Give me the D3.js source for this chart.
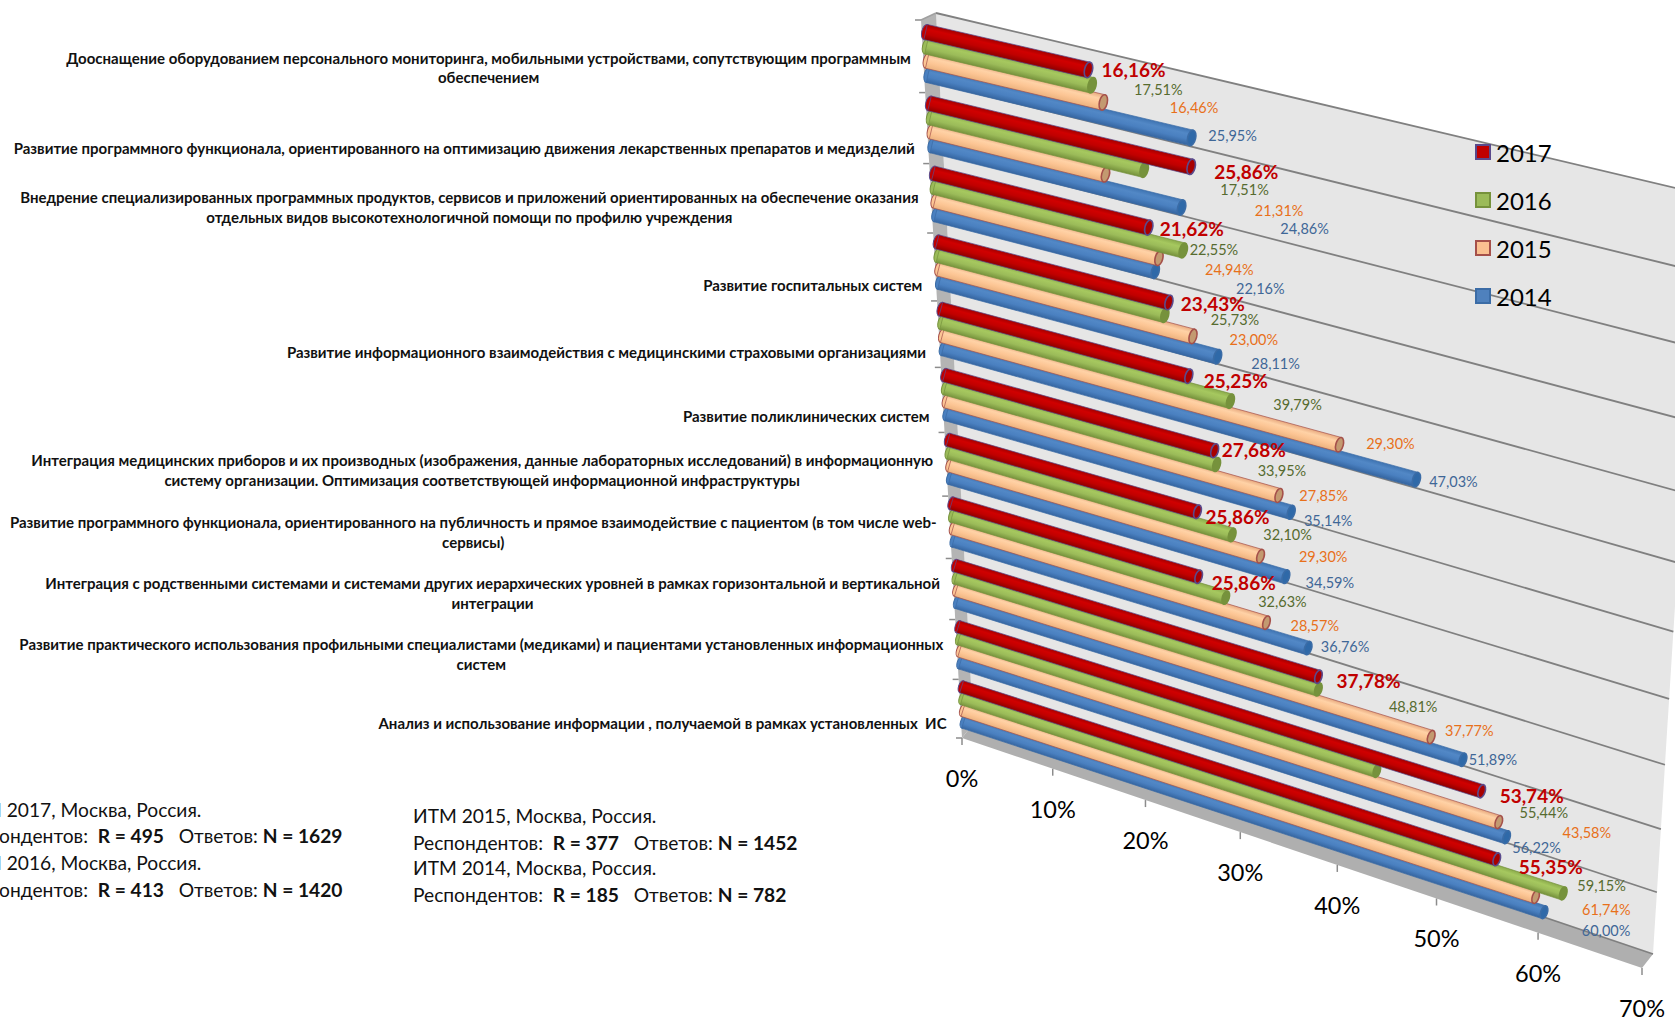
<!DOCTYPE html>
<html lang="ru">
<head>
<meta charset="utf-8">
<script src="https://cdn.jsdelivr.net/npm/d3@7/dist/d3.min.js"></script>
<style>
  html, body { margin: 0; padding: 0; background: #fff; overflow: hidden; }
  svg { display: block; font-family: Lato, "Open Sans", "Noto Sans", sans-serif; }
</style>
</head>
<body>
<svg id="chart" width="1675" height="1021"></svg>
<script>
// Survey results: priorities of hospital IT development, 2014-2017.
const categories = [
  "Дооснащение оборудованием персонального мониторинга, мобильными устройствами, сопутствующим программным\nобеспечением",
  "Развитие программного функционала, ориентированного на оптимизацию движения лекарственных препаратов и медизделий",
  "Внедрение специализированных программных продуктов, сервисов и приложений ориентированных на обеспечение оказания\nотдельных видов высокотехнологичной помощи по профилю учреждения",
  "Развитие госпитальных систем",
  "Развитие информационного взаимодействия с медицинскими страховыми организациями",
  "Развитие поликлинических систем",
  "Интеграция медицинских приборов и их производных (изображения, данные лабораторных исследований) в информационную\nсистему организации. Оптимизация соответствующей информационной инфраструктуры",
  "Развитие программного функционала, ориентированного на публичность и прямое взаимодействие с пациентом (в том числе web-\nсервисы)",
  "Интеграция с родственными системами и системами других иерархических уровней в рамках горизонтальной и вертикальной\nинтеграции",
  "Развитие практического использования профильными специалистами (медиками) и пациентами установленных информационных\nсистем",
  "Анализ и использование информации , получаемой в рамках установленных  ИС"
];
const years = ["2017", "2016", "2015", "2014"];
const values2017 = [16.16, 25.86, 21.62, 23.43, 25.25, 27.68, 25.86, 25.86, 37.78, 53.74, 55.35];
const values2016 = [16.46, 21.31, 24.94, 23.00, 29.30, 27.85, 29.30, 28.57, 37.77, 43.58, 61.74];
const values2015 = [17.51, 17.51, 22.55, 25.73, 39.79, 33.95, 32.10, 32.63, 48.81, 55.44, 59.15];
const values2014 = [25.95, 24.86, 22.16, 28.11, 47.03, 35.14, 34.59, 36.76, 51.89, 56.22, 60.00];
const valueTicks = [0, 10, 20, 30, 40, 50, 60, 70];
const surveyNotes = [
  [["ИТМ 2017, Москва, Россия.", 0]],
  [["Респондентов:  ", 0], ["R = 495", 1], ["   Ответов: ", 0], ["N = 1629", 1]],
  [["ИТМ 2016, Москва, Россия.", 0]],
  [["Респондентов:  ", 0], ["R = 413", 1], ["   Ответов: ", 0], ["N = 1420", 1]]
];
const surveyNotesEarlier = [
  [["ИТМ 2015, Москва, Россия.", 0]],
  [["Респондентов:  ", 0], ["R = 377", 1], ["   Ответов: ", 0], ["N = 1452", 1]],
  [["ИТМ 2014, Москва, Россия.", 0]],
  [["Респондентов:  ", 0], ["R = 185", 1], ["   Ответов: ", 0], ["N = 782", 1]]
];

// Styling per year: the value captions of 2016 and 2015 carry each other's colour.
const seriesStyle = {
  "2017": { values: values2017, edge: "#5a4a8c", cap: "#a80000", text: "#c00000", swatch: "#c00000",
            stops: ["#a20000", "#d00000", "#c00000", "#8c0000"] },
  "2016": { values: values2016, edge: "#76923c", cap: "#76923c", text: "#e8701a", swatch: "#9bbb59",
            stops: ["#8cac4c", "#a6c85f", "#9bbb59", "#76923c"] },
  "2015": { values: values2015, edge: "#a5504a", cap: "#c39a70", text: "#566b2f", swatch: "#fac090",
            stops: ["#e8aa80", "#ffd2a6", "#fcc594", "#ecb27e"] },
  "2014": { values: values2014, edge: "#3b6ca6", cap: "#2f69a8", text: "#3f6797", swatch: "#4f81bd",
            stops: ["#3f74b2", "#5288c6", "#4a80c0", "#3565a0"] }
};

// Hand placement of the value captions, px from the end of each cylinder.
const captionNudge = {
  "2017": [[45,0],[55,5],[43,1],[44,1],[47,4],[39,-1],[40,5],[45,6],[50,4],[50,4],[54,7]],
  "2016": [[102,22],[135,41],[46,19],[89,24],[160,42],[107,31],[91,22],[89,28],[151,41],[210,62],[43,16]],
  "2015": [[55,-13],[139,15],[55,-9],[42,-17],[-42,-40],[3,-25],[27,-22],[16,-21],[-18,-31],[45,-10],[66,-12]],
  "2014": [[41,-2],[123,21],[105,17],[58,7],[37,2],[37,8],[44,6],[37,-2],[30,0],[30,10],[62,18]]
};
// Vertical placement of the category captions, px below the band centre.
const categoryDrop = [14, 23, 13, 23, 23, 21, 11, 10, 9, 9, 18];

// Perspective map of the unit square onto a quadrilateral (0,0 -> p0, 1,0 -> p1, 1,1 -> p2, 0,1 -> p3).
function perspective([x0, y0], [x1, y1], [x2, y2], [x3, y3]) {
  const dx1 = x1 - x2, dx2 = x3 - x2, sx = x0 - x1 + x2 - x3;
  const dy1 = y1 - y2, dy2 = y3 - y2, sy = y0 - y1 + y2 - y3;
  const den = dx1 * dy2 - dx2 * dy1;
  const g = (sx * dy2 - dx2 * sy) / den, h = (dx1 * sy - sx * dy1) / den;
  const a = x1 - x0 + g * x1, b = x3 - x0 + h * x3;
  const d = y1 - y0 + g * y1, e = y3 - y0 + h * y3;
  return (u, v) => {
    const w = g * u + h * v + 1;
    return [(a * u + b * v + x0) / w, (d * u + e * v + y0) / w];
  };
}

const wallPlane  = perspective([936, 13], [1701, 194], [1653, 954], [973, 724]);
const barPlane   = perspective([924.8, 17.6], [1690, 194], [1649.4, 959.4], [964.2, 734]);
const frontPlane = perspective([921, 20], [1690, 214], [1642, 968], [962, 738]);

const xScale = d3.scaleLinear().domain([0, 70]).range([0, 1]);
const catScale = d3.scaleBand().domain(d3.range(categories.length)).range([0, 1]);
const seriesScale = d3.scaleBand().domain(years).range([0, catScale.bandwidth()]).paddingInner(0).paddingOuter(0.5);
const percent = d3.formatLocale({ decimal: ",", thousands: " ", grouping: [3], currency: ["", ""] }).format(".2f");

const svg = d3.select("#chart");
const defs = svg.append("defs");
const polygon = pts => "M" + pts.map(p => p.map(n => n.toFixed(2)).join(",")).join("L") + "Z";

// Chart box: back wall, side wall, floor strip.
const box = svg.append("g");
box.append("path").attr("d", polygon([wallPlane(0,0), wallPlane(1,0), wallPlane(1,1), wallPlane(0,1)])).attr("fill", "#e6e6e6");
box.append("path").attr("d", polygon([frontPlane(0,0), wallPlane(0,0), wallPlane(0,1), frontPlane(0,1)])).attr("fill", "#b4b4b4");
box.append("path").attr("d", polygon([wallPlane(0,1), wallPlane(1,1), frontPlane(1,1), frontPlane(0,1)])).attr("fill", "#afafaf");

const gridSteps = d3.range(categories.length + 1).map(i => i / categories.length);
box.selectAll("line.grid").data(gridSteps).join("line")
  .attr("class", "grid")
  .attr("x1", t => wallPlane(0, t)[0]).attr("y1", t => wallPlane(0, t)[1])
  .attr("x2", t => wallPlane(1, t)[0]).attr("y2", t => wallPlane(1, t)[1])
  .attr("stroke", "#808080").attr("stroke-width", 1.8);
box.append("path").attr("d", "M" + frontPlane(0,0) + "L" + wallPlane(0,0))
  .attr("stroke", "#a0a0a0").attr("stroke-width", 1.5).attr("fill", "none");

// Axis ticks.
const axis = svg.append("g").attr("stroke", "#8c8c8c").attr("stroke-width", 1.5);
axis.selectAll("line.cat").data(gridSteps).join("line")
  .attr("class", "cat")
  .attr("x1", t => frontPlane(0, t)[0]).attr("y1", t => frontPlane(0, t)[1])
  .attr("x2", t => frontPlane(0, t)[0] - 6).attr("y2", t => frontPlane(0, t)[1]);
axis.selectAll("line.val").data(valueTicks).join("line")
  .attr("class", "val")
  .attr("x1", v => frontPlane(xScale(v), 1)[0]).attr("y1", v => frontPlane(xScale(v), 1)[1])
  .attr("x2", v => frontPlane(xScale(v), 1)[0]).attr("y2", v => frontPlane(xScale(v), 1)[1] + 7);
svg.append("g").selectAll("text").data(valueTicks).join("text")
  .attr("x", v => frontPlane(xScale(v), 1)[0])
  .attr("y", v => frontPlane(xScale(v), 1)[1] + 40)
  .attr("text-anchor", "middle").attr("dominant-baseline", "central")
  .attr("font-size", 23.5).attr("fill", "#000")
  .text(v => v + "%");

// Cylinders, from the bottom group up and from the last series to the first,
// so that nearer tubes cover the ones behind them.
const barsLayer = svg.append("g");
const captions = [];
d3.range(categories.length).reverse().forEach(cat => {
  years.slice().reverse().forEach(year => {
    const style = seriesStyle[year];
    const value = style.values[cat];
    const t = catScale(cat) + seriesScale(year) + seriesScale.bandwidth() / 2;
    const half = seriesScale.step() * 0.56;
    const u = xScale(value);
    const start = barPlane(0, t), end = barPlane(u, t), mid = barPlane(u / 2, t);
    const angle = Math.atan2(end[1] - start[1], end[0] - start[0]);
    const normal = [-Math.sin(angle), Math.cos(angle)];
    const perp = (p, q) => Math.abs((q[0] - p[0]) * normal[0] + (q[1] - p[1]) * normal[1]) / 2;
    const rStart = perp(barPlane(0, t - half), barPlane(0, t + half));
    const rEnd = perp(barPlane(u, t - half), barPlane(u, t + half));
    const rMid = (rStart + rEnd) / 2;
    const id = `tube-${cat}-${year}`;

    const grad = defs.append("linearGradient").attr("id", id).attr("gradientUnits", "userSpaceOnUse")
      .attr("x1", mid[0] - normal[0] * rMid).attr("y1", mid[1] - normal[1] * rMid)
      .attr("x2", mid[0] + normal[0] * rMid).attr("y2", mid[1] + normal[1] * rMid);
    [0, 0.3, 0.62, 1].forEach((o, i) => grad.append("stop").attr("offset", o).attr("stop-color", style.stops[i]));

    const at = (p, r, s) => [p[0] + s * normal[0] * r, p[1] + s * normal[1] * r];
    const g = barsLayer.append("g").attr("class", "bar").attr("data-year", year).attr("data-value", value);
    const ellipse = (p, r) => g.append("ellipse")
      .attr("rx", r * 0.5).attr("ry", r)
      .attr("transform", `translate(${p[0]},${p[1]}) rotate(${angle * 180 / Math.PI})`);
    ellipse(start, rStart).attr("fill", style.stops[2]).attr("stroke", style.edge).attr("stroke-width", 1);
    g.append("path")
      .attr("d", polygon([at(start, rStart, -1), at(end, rEnd, -1), at(end, rEnd, 1), at(start, rStart, 1)]))
      .attr("fill", `url(#${id})`).attr("stroke", style.edge).attr("stroke-width", 0.7);
    ellipse(end, rEnd).attr("fill", style.cap).attr("stroke", style.edge).attr("stroke-width", 1.6);

    const [dx, dy] = captionNudge[year][cat];
    captions.push({ year, value, style, x: end[0] + dx, y: end[1] + dy });
  });
});

svg.append("g").selectAll("text").data(captions).join("text")
  .attr("x", d => d.x).attr("y", d => d.y)
  .attr("text-anchor", "middle").attr("dominant-baseline", "central")
  .attr("fill", d => d.style.text)
  .attr("font-size", d => d.year === "2017" ? 19 : 14.5)
  .attr("font-weight", d => d.year === "2017" ? 700 : 400)
  .text(d => percent(d.value) + "%");

// Category captions: centred lines in a block aligned to the axis.
const catCaptions = svg.append("g").attr("font-size", 15).attr("font-weight", 700).attr("fill", "#111");
categories.forEach((label, i) => {
  const lines = label.split("\n");
  const centre = catScale(i) + catScale.bandwidth() / 2;
  const [ax, ay] = barPlane(0, centre);
  const right = ax - 16, cy = ay + categoryDrop[i];
  const block = catCaptions.append("g");
  const texts = lines.map((line, k) => block.append("text")
    .attr("y", cy + (k - (lines.length - 1) / 2) * 19.8)
    .attr("dominant-baseline", "central").attr("text-anchor", "middle")
    .attr("xml:space", "preserve").style("white-space", "pre").text(line));
  const width = d3.max(texts, t => t.node().getComputedTextLength());
  texts.forEach(t => t.attr("x", right - width / 2));
});

// Legend.
const legend = svg.append("g");
years.forEach((year, i) => {
  const y = 152 + i * 48;
  legend.append("rect").attr("x", 1476).attr("y", y - 7).attr("width", 14).attr("height", 14)
    .attr("fill", seriesStyle[year].swatch).attr("stroke", seriesStyle[year].edge).attr("stroke-width", 2);
  legend.append("text").attr("x", 1496).attr("y", y).attr("dominant-baseline", "central")
    .attr("font-size", 24).attr("fill", "#000").text(year);
});

// Survey sample notes below the category captions.
function drawNotes(lines, x, ys) {
  const note = svg.append("g").attr("font-size", 19.2).attr("fill", "#111");
  lines.forEach((parts, i) => {
    const text = note.append("text").attr("x", x).attr("y", ys[i]).attr("dominant-baseline", "central")
      .attr("xml:space", "preserve").style("white-space", "pre");
    parts.forEach(([s, bold]) => text.append("tspan").attr("font-weight", bold ? 700 : 400).text(s));
  });
}
drawNotes(surveyNotes, -42, [809, 835, 862, 889]);
drawNotes(surveyNotesEarlier, 413, [815, 842, 867, 894]);
</script>
</body>
</html>
